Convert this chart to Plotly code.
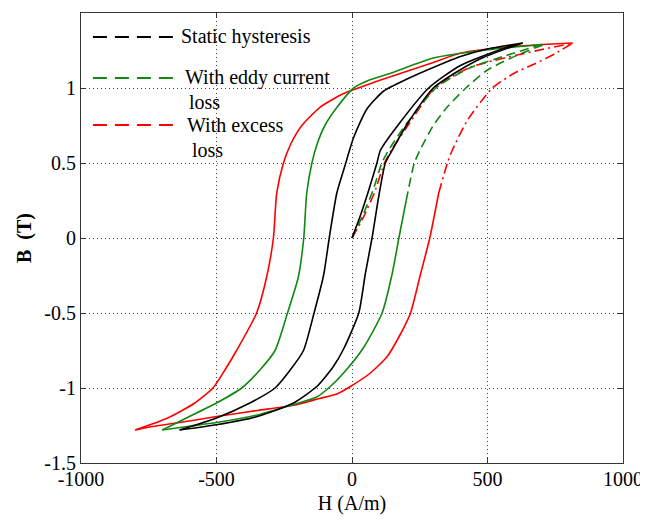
import plotly.graph_objects as go

# ---------------- data ----------------
# Static hysteresis (black)
static_desc_H = [630, 500, 400, 265, 203, 117, 55, 6, -28, -56, -84, -105, -140, -179, -228, -284, -377, -500, -636]
static_desc_B = [1.30, 1.26, 1.21, 1.11, 1.06, 0.98, 0.86, 0.67, 0.47, 0.30, 0.0, -0.25, -0.5, -0.75, -0.88, -1.0, -1.10, -1.20, -1.28]
static_asc_H = [-636, -500, -350, -216, -130, -70, -31, 25, 49, 74, 98, 123, 148, 204, 300, 380, 480, 630]
static_asc_B = [-1.28, -1.245, -1.19, -1.10, -0.99, -0.86, -0.74, -0.5, -0.24, 0.0, 0.27, 0.5, 0.585, 0.76, 1.0, 1.10, 1.20, 1.30]
static_init_H = [0, 31, 62, 92, 105, 173, 283, 400, 600]
static_init_B = [0, 0.15, 0.32, 0.5, 0.585, 0.76, 1.0, 1.15, 1.29]

# With eddy current loss (green)
eddy_desc_H = [700, 500, 300, 145, 60, 6, -56, -100, -128, -148, -167, -178, -198, -238, -284, -340, -407, -500, -611, -700]
eddy_desc_B = [1.29, 1.255, 1.20, 1.10, 1.05, 1.0, 0.87, 0.75, 0.63, 0.5, 0.3, 0.0, -0.26, -0.5, -0.75, -0.88, -1.0, -1.10, -1.20, -1.28]
eddy_asc_H = [-700, -600, -500, -350, -216, -130, -80, -31, 43, 111, 148, 173, 200, 230, 255, 300, 350, 420, 500, 611, 710]
eddy_asc_B = [-1.28, -1.255, -1.23, -1.18, -1.11, -1.06, -0.99, -0.90, -0.73, -0.5, -0.24, 0.0, 0.25, 0.5, 0.6, 0.75, 0.87, 1.0, 1.12, 1.22, 1.29]
eddy_init_H = [0, 37, 78, 110, 135, 200, 310, 430, 700]
eddy_init_B = [0, 0.14, 0.32, 0.5, 0.585, 0.76, 1.0, 1.13, 1.29]

# With excess loss (red)
excess_desc_H = [815, 700, 500, 395, 300, 200, 100, 0, -35, -117, -185, -225, -253, -278, -290, -315, -352, -426, -469, -513, -580, -680, -800]
excess_desc_B = [1.30, 1.29, 1.26, 1.23, 1.17, 1.11, 1.05, 0.985, 0.96, 0.873, 0.75, 0.63, 0.5, 0.296, 0.0, -0.26, -0.5, -0.75, -0.88, -1.0, -1.10, -1.20, -1.28]
excess_asc_H = [-800, -747, -600, -500, -350, -216, -120, -56, -6, 68, 130, 179, 216, 253, 287, 320, 352, 370, 426, 518, 600, 673, 750, 815]
excess_asc_B = [-1.28, -1.26, -1.22, -1.19, -1.15, -1.115, -1.07, -1.04, -0.99, -0.90, -0.79, -0.64, -0.5, -0.24, 0.0, 0.3, 0.5, 0.585, 0.785, 1.0, 1.10, 1.16, 1.23, 1.30]
excess_init_H = [0, 40, 82, 120, 145, 210, 305, 440, 815]
excess_init_B = [0, 0.13, 0.30, 0.5, 0.585, 0.76, 1.0, 1.14, 1.30]

legend_labels = ["Static hysteresis", "With eddy current", "loss", "With excess", "loss"]
x_ticks = [-1000, -500, 0, 500, 1000]
y_ticks = [-1.5, -1, -0.5, 0, 0.5, 1, 1.5]

BLACK = "#000000"
GREEN = "#118811"
RED = "#ff0000"
FONT = "Liberation Serif"
FS = 20

fig = go.Figure()


def add(H, B, color, dash="solid", width=1.6):
    fig.add_trace(go.Scatter(x=H, y=B, mode="lines", showlegend=False,
                             line=dict(color=color, width=width, dash=dash,
                                       shape="spline", smoothing=0.6)))


def add_asc(H, B, color, dash):
    split = next(i for i, b in enumerate(B) if b >= 0.2)
    add(H[:split + 1], B[:split + 1], color, "solid")
    add(H[split:], B[split:], color, dash)


# red (outermost)
add(excess_desc_H, excess_desc_B, RED)
add_asc(excess_asc_H, excess_asc_B, RED, "10px,4px,2px,4px")
add(excess_init_H, excess_init_B, RED, "10px,4px,2px,4px")
# green
add(eddy_desc_H, eddy_desc_B, GREEN)
add_asc(eddy_asc_H, eddy_asc_B, GREEN, "9px,5px")
add(eddy_init_H, eddy_init_B, GREEN, "9px,5px")
# black
add(static_desc_H, static_desc_B, BLACK)
add(static_asc_H, static_asc_B, BLACK)
add(static_init_H, static_init_B, BLACK)

# ---------------- manual legend (paper coordinates) ----------------
legend_rows = [(0.9467, BLACK), (0.8556, GREEN), (0.7511, RED)]
for yy, col in legend_rows:
    fig.add_shape(type="line", xref="paper", yref="paper", x0=0.022, x1=0.1734, y0=yy, y1=yy,
                  line=dict(color=col, width=2.2, dash="14px,8px"))

legend_text_pos = [(0.1808, 0.9467), (0.1882, 0.8556), (0.1956, 0.8022), (0.1919, 0.7511), (0.2011, 0.6956)]
for (xx, yy), txt in zip(legend_text_pos, legend_labels):
    fig.add_annotation(x=xx, y=yy, xref="paper", yref="paper", text=txt, showarrow=False,
                       xanchor="left", yanchor="middle",
                       font=dict(family=FONT, size=FS, color="black"))

axis_common = dict(showgrid=True, gridcolor="#444444", griddash="1px,3px", gridwidth=1,
                   zeroline=False, showline=True, linecolor="#333333", linewidth=1.2,
                   mirror="ticks", ticks="inside", ticklen=5, tickcolor="#333333",
                   automargin=False,
                   tickfont=dict(family=FONT, size=FS, color="black"))

fig.update_xaxes(range=[-1000, 1000], tickvals=x_ticks, ticktext=[str(v) for v in x_ticks],
                 ticklabelstandoff=-2,
                 title=dict(text="H (A/m)", font=dict(family=FONT, size=FS, color="black"), standoff=6),
                 **axis_common)
fig.update_yaxes(range=[-1.5, 1.5], tickvals=y_ticks, ticktext=[f"{v:g}" for v in y_ticks],
                 title=dict(text="<b>B  (T)</b>", font=dict(family=FONT, size=FS, color="black"), standoff=7),
                 **axis_common)

# the page body adds an 8px offset, so the figure is 8px smaller on each side
fig.update_layout(width=640, height=512, margin=dict(l=73, r=25, t=5, b=57),
                  plot_bgcolor="white", paper_bgcolor="white", showlegend=False)

fig.write_html("out.html")
